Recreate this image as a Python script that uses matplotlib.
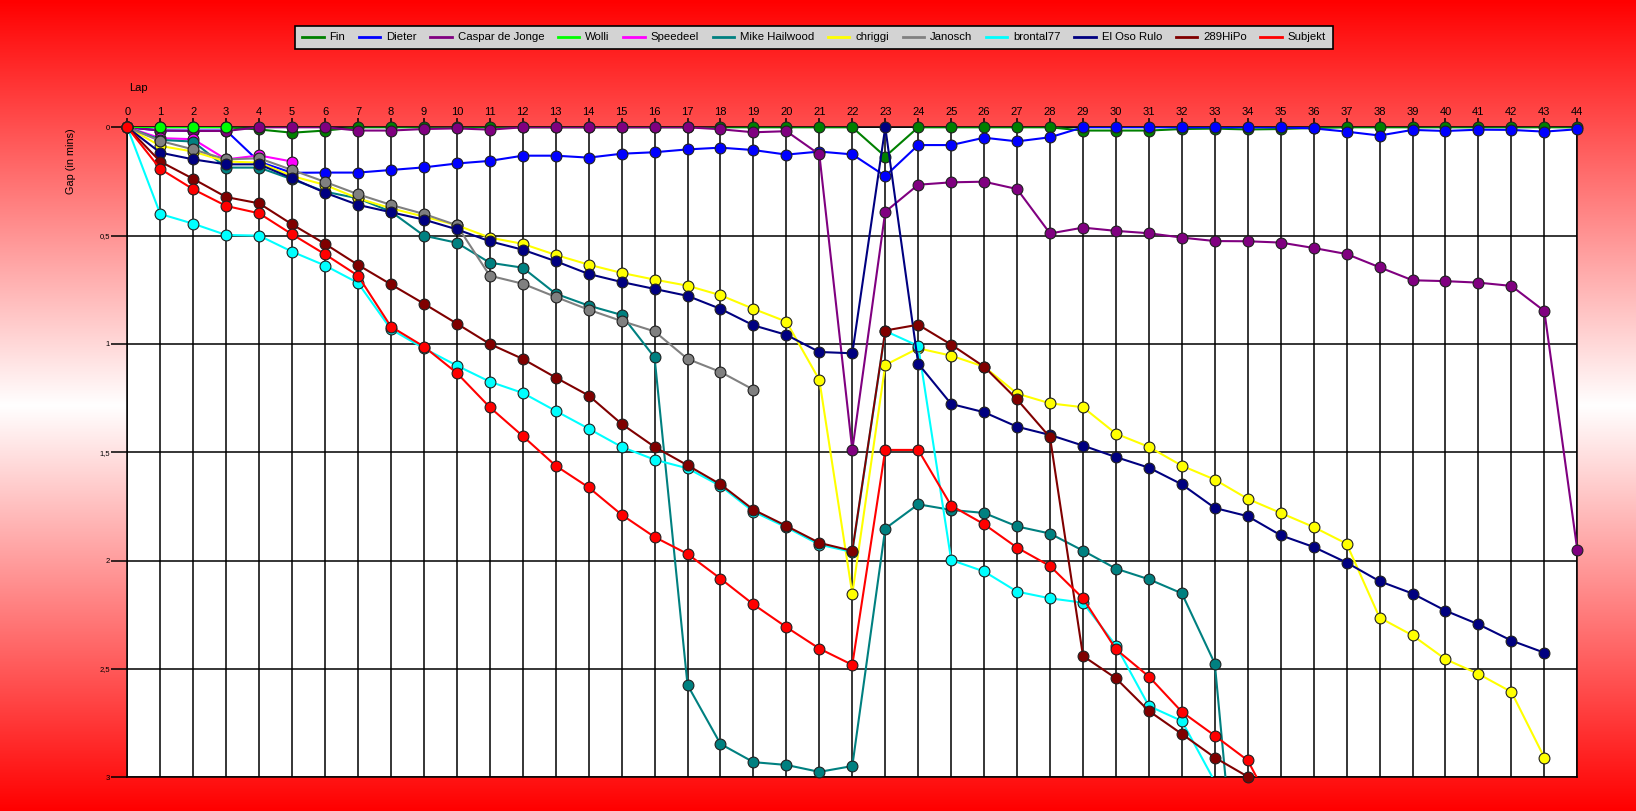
import numpy as np
import matplotlib
matplotlib.use('Agg')
import matplotlib.pyplot as plt

plt.rcParams['font.family'] = ['Liberation Sans', 'DejaVu Sans']

# ---------------- data ----------------
laps = list(range(0, 45))
y_ticks = [0, 0.5, 1, 1.5, 2, 2.5, 3]
y_tick_labels = ["0", "0,5", "1", "1,5", "2", "2,5", "3"]

names = ["Fin", "Dieter", "Caspar de Jonge", "Wolli", "Speedeel", "Mike Hailwood",
         "chriggi", "Janosch", "brontal77", "El Oso Rulo", "289HiPo", "Subjekt"]
colors = ["#008000", "#0000FF", "#800080", "#00FF00", "#FF00FF", "#008080",
          "#FFFF00", "#808080", "#00FFFF", "#000080", "#800000", "#FF0000"]

fin = [0, 0, 0, 0, 0.01, 0.025, 0.015, 0, 0, 0, 0, 0, 0, 0, 0, 0, 0, 0, 0, 0, 0, 0, 0,
       0.135, 0, 0, 0, 0, 0, 0.015, 0.015, 0.015, 0.008, 0.006, 0.01, 0.008, 0.003,
       0, 0, 0, 0, 0, 0, 0, 0]
dieter = [0, 0.015, 0.015, 0.015, 0.159, 0.21, 0.209, 0.209, 0.197, 0.185, 0.167, 0.155,
          0.131, 0.131, 0.14, 0.122, 0.115, 0.102, 0.094, 0.105, 0.126, 0.112, 0.125,
          0.225, 0.082, 0.082, 0.048, 0.065, 0.046, 0, 0, 0, 0, 0, 0, 0, 0.005, 0.02,
          0.038, 0.012, 0.017, 0.011, 0.012, 0.02, 0.009]
caspar = [0, 0.015, 0.017, 0.017, 0, 0, 0, 0.015, 0.015, 0.008, 0.005, 0.011, 0, 0, 0, 0,
          0, 0, 0.009, 0.023, 0.018, 0.125, 1.49, 0.39, 0.265, 0.254, 0.251, 0.285, 0.49,
          0.463, 0.478, 0.489, 0.509, 0.525, 0.526, 0.532, 0.557, 0.585, 0.646, 0.706,
          0.71, 0.717, 0.732, 0.848, 1.951]
wolli = [0, 0, 0, 0]
speedeel = [0, 0.05, 0.055, 0.148, 0.13, 0.158]
mike = [0, 0.058, 0.066, 0.186, 0.186, 0.24, 0.297, 0.328, 0.389, 0.5, 0.533, 0.625,
        0.648, 0.768, 0.823, 0.866, 1.062, 2.574, 2.846, 2.93, 2.943, 2.975, 2.948,
        1.852, 1.74, 1.766, 1.78, 1.842, 1.875, 1.954, 2.037, 2.086, 2.151, 2.475, 4.1]
chriggi = [0, 0.086, 0.112, 0.158, 0.163, 0.225, 0.266, 0.328, 0.374, 0.412, 0.452,
           0.509, 0.538, 0.589, 0.634, 0.672, 0.703, 0.731, 0.775, 0.838, 0.897, 1.166,
           2.154, 1.097, 1.02, 1.054, 1.105, 1.229, 1.274, 1.292, 1.414, 1.475, 1.562,
           1.626, 1.715, 1.78, 1.845, 1.922, 2.263, 2.345, 2.455, 2.523, 2.606, 2.909]
janosch = [0, 0.063, 0.102, 0.148, 0.143, 0.197, 0.252, 0.309, 0.358, 0.4, 0.452, 0.685,
           0.722, 0.783, 0.842, 0.894, 0.942, 1.069, 1.129, 1.211]
brontal77 = [0, 0.4, 0.445, 0.497, 0.5, 0.574, 0.638, 0.718, 0.932, 1.02, 1.1, 1.174,
             1.226, 1.309, 1.391, 1.475, 1.534, 1.574, 1.655, 1.774, 1.846, 1.926, 1.96,
             0.94, 1.009, 1.997, 2.05, 2.143, 2.174, 2.194, 2.392, 2.671, 2.74, 3.02]
el_oso_rulo = [0, 0.117, 0.148, 0.171, 0.171, 0.235, 0.302, 0.358, 0.392, 0.426, 0.471,
               0.526, 0.565, 0.618, 0.677, 0.714, 0.746, 0.778, 0.838, 0.914, 0.958,
               1.037, 1.043, 0.0, 1.091, 1.277, 1.315, 1.382, 1.42, 1.469, 1.522, 1.571,
               1.648, 1.757, 1.795, 1.883, 1.937, 2.009, 2.095, 2.152, 2.231, 2.294,
               2.369, 2.425]
hipo289 = [0, 0.158, 0.238, 0.322, 0.351, 0.448, 0.538, 0.635, 0.725, 0.814, 0.906, 1.0,
           1.069, 1.155, 1.238, 1.369, 1.475, 1.56, 1.648, 1.765, 1.84, 1.918, 1.955,
           0.938, 0.911, 1.003, 1.105, 1.256, 1.431, 2.44, 2.543, 2.694, 2.8, 2.909, 2.997]
subjekt = [0, 0.192, 0.286, 0.363, 0.397, 0.494, 0.586, 0.685, 0.92, 1.012, 1.134, 1.292,
           1.425, 1.562, 1.662, 1.788, 1.891, 1.969, 2.083, 2.202, 2.307, 2.406, 2.481,
           1.489, 1.489, 1.746, 1.832, 1.94, 2.025, 2.174, 2.409, 2.535, 2.698, 2.808,
           2.922, 3.21]

series = [fin, dieter, caspar, wolli, speedeel, mike, chriggi, janosch, brontal77,
          el_oso_rulo, hipo289, subjekt]

# ---------------- figure ----------------
W, H = 1636, 811
fig = plt.figure(figsize=(W / 100, H / 100), dpi=100)

# red - white - red vertical gradient background
bg = fig.add_axes([0, 0, 1, 1], zorder=-10)
t = np.abs(np.linspace(-1, 1, 400))
grad = np.ones((400, 1, 3))
grad[:, 0, 1] = 1 - t
grad[:, 0, 2] = 1 - t
bg.imshow(grad, aspect='auto', extent=[0, 1, 0, 1], interpolation='bilinear')
bg.set_axis_off()

left, right, top, bottom = 127.3, 1577.3, 127.3, 777.3
ax = fig.add_axes([left / W, 1 - bottom / H, (right - left) / W, (bottom - top) / H])
ax.set_facecolor('white')

for name, col, vals in zip(names, colors, series):
    v = np.array(vals, dtype=float)
    x = np.array(laps[:len(v)])
    ax.plot(x, v, color=col, lw=1.5, solid_joinstyle='round', label=name, zorder=3)
    mv = np.where(v <= 3.0, v, np.nan)
    ax.plot(x, mv, linestyle='none', marker='o', markersize=7.8,
            markerfacecolor=col, markeredgecolor='#202020', markeredgewidth=0.8,
            clip_on=False, zorder=3)

ax.set_xlim(0, 44)
ax.set_ylim(3, 0)
ax.set_xticks(laps)
ax.set_xticklabels([str(l) for l in laps])
ax.set_yticks(y_ticks)
ax.set_yticklabels(y_tick_labels)
ax.xaxis.tick_top()
ax.tick_params(axis='x', length=6.5, width=1.1, pad=1, labelsize=8, colors='black')
ax.tick_params(axis='y', length=11.5, width=1.1, pad=1, labelsize=5.5, colors='black')
ax.grid(True, color='black', lw=1.1)
ax.set_axisbelow(True)
for s in ax.spines.values():
    s.set_color('black')
    s.set_linewidth(1.1)

fig.text(129 / W, 1 - 88.3 / H, "Lap", ha='left', va='center', fontsize=8)
fig.text(71 / W, 1 - 161 / H, "Gap (in mins)", ha='center', va='center',
         rotation=90, fontsize=7.8)

handles, labels = ax.get_legend_handles_labels()
leg = fig.legend(handles, labels, loc='center', ncol=12,
                 bbox_to_anchor=(814 / W, 1 - 37.5 / H),
                 fontsize=8.2, handlelength=1.9, handletextpad=0.5,
                 columnspacing=1.2, borderpad=0.6, fancybox=False,
                 facecolor='#D3D3D3', edgecolor='black', framealpha=1)
leg.get_frame().set_linewidth(1.2)
for h in leg.get_lines():
    h.set_linewidth(2)

fig.savefig('out.png', dpi=100)
